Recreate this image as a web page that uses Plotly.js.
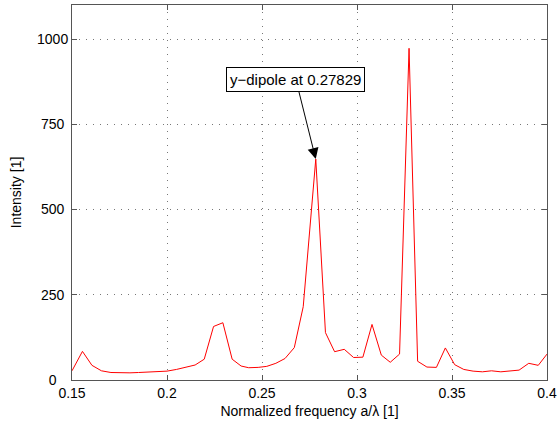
<!DOCTYPE html>
<html>
<head>
<meta charset="utf-8">
<script src="https://cdn.plot.ly/plotly-3.0.1.min.js"></script>
<style>html,body{margin:0;padding:0;background:#fff;}#chart{width:559px;height:431px;}</style>
</head>
<body>
<div id="chart"></div>
<script>
const freq = [0.150,0.1555,0.1605,0.1655,0.1705,0.1755,0.1805,0.1850,0.1900,0.1950,0.2000,0.2050,0.2100,0.2148,0.2196,0.2245,0.2294,0.2343,0.2390,0.2430,0.2480,0.2525,0.2573,0.2621,0.2670,0.2717,0.2783,0.2834,0.2882,0.2933,0.2982,0.3031,0.3079,0.3128,0.3175,0.3224,0.3274,0.3319,0.3368,0.3418,0.3465,0.3514,0.3562,0.3611,0.3660,0.3708,0.3757,0.3804,0.3853,0.3904,0.3954,0.4000];
const intensity = [27,84,43,27,22,21,21,22,23,24,26,31,37,44,61,157,168,61,41,36,37,40,49,63,95,215,648,139,83,90,66,67,163,73,52,76,973,55,38,37,94,45,31,26,24,27,24,26,29,49,43,76];
const xTicks = [0.15,0.2,0.25,0.3,0.35,0.4];
const xTickText = ['0.15','0.2','0.25','0.3','0.35','0.4'];
const yTicks = [0,250,500,750,1000];
const yTickText = ['0\u00a0\u00a0\u00a0','250\u00a0','500\u00a0','750\u00a0','1000'];
const annX = 0.27829, annY = 648, annText = 'y\u2212dipole at 0.27829';

const FONT = 'Liberation Sans, Arial, sans-serif';
const axisCommon = {
  showline: true, linecolor: '#555', linewidth: 1, mirror: 'ticks',
  ticks: 'inside', ticklen: 5, tickcolor: '#555',
  showgrid: true, gridcolor: '#777', griddash: '1px,6px', gridwidth: 1,
  zeroline: false,
  tickfont: {family: FONT, size: 14, color: '#000'}
};

Plotly.newPlot('chart', [{
  x: freq, y: intensity, type: 'scatter', mode: 'lines',
  line: {color: '#ff0000', width: 1}, hoverinfo: 'none'
}], {
  width: 559, height: 431,
  margin: {l: 72, r: 12, t: 5, b: 51},
  paper_bgcolor: '#fff', plot_bgcolor: '#fff',
  showlegend: false,
  xaxis: Object.assign({}, axisCommon, {
    range: [0.15, 0.4], tickvals: xTicks, ticktext: xTickText,
    title: {text: 'Normalized frequency a/\u03bb [1]', standoff: 6,
      font: {family: FONT, size: 14, color: '#000'}}
  }),
  yaxis: Object.assign({}, axisCommon, {
    range: [0, 1100], tickvals: yTicks, ticktext: yTickText,
    title: {text: 'Intensity [1]', standoff: 12,
      font: {family: FONT, size: 14, color: '#000'}}
  }),
  annotations: [{
    x: annX, y: annY, xref: 'x', yref: 'y',
    text: annText, showarrow: true, arrowhead: 2, arrowsize: 2.2, arrowwidth: 1,
    arrowcolor: '#000', ax: -20, ay: -80,
    bgcolor: '#fff', bordercolor: '#000', borderwidth: 1, borderpad: 3,
    font: {family: FONT, size: 15, color: '#000'}
  }]
}, {staticPlot: true});
</script>
</body>
</html>
